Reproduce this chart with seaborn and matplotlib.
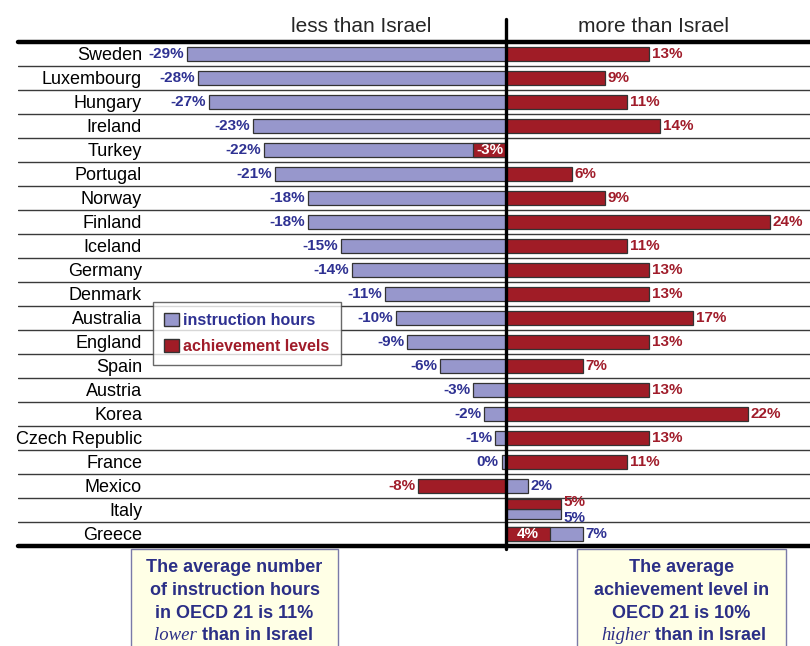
import matplotlib
matplotlib.use("Agg")
import matplotlib.pyplot as plt
import matplotlib.transforms as mtransforms
from matplotlib.patches import Patch, Rectangle
import seaborn as sns

# Data (% difference from Israel)
countries = ["Sweden", "Luxembourg", "Hungary", "Ireland", "Turkey", "Portugal",
             "Norway", "Finland", "Iceland", "Germany", "Denmark", "Australia",
             "England", "Spain", "Austria", "Korea", "Czech Republic", "France",
             "Mexico", "Italy", "Greece"]
instruction = [-29, -28, -27, -23, -22, -21, -18, -18, -15, -14, -11, -10,
               -9, -6, -3, -2, -1, -0.4, 2, 5, 7]
achievement = [13, 9, 11, 14, -3, 6, 9, 24, 11, 13, 13, 17,
               13, 7, 13, 22, 13, 11, -8, 5, 4]
header_left = "less than Israel"
header_right = "more than Israel"
note_left = ["The average number", "of instruction hours", "in OECD 21 is 11%"]
note_left_last = ("lower", " than in Israel")
note_right = ["The average", "achievement level in", "OECD 21 is 10%"]
note_right_last = ("higher", " than in Israel")

BLUE = "#9797CC"
RED = "#A01C26"
BLUE_TXT = "#2E3192"
RED_TXT = "#A01C2A"
NAVY = "#2B2F86"

sns.set_style("white")
plt.rcParams['font.family'] = ['Liberation Sans', 'DejaVu Sans']

W, H = 810, 646
fig = plt.figure(figsize=(W / 100, H / 100), dpi=100)
ax = fig.add_axes([18 / W, 1 - 546 / H, 792 / W, 504 / H])

sns.barplot(x=instruction, y=countries, orient='h', color=BLUE, saturation=1,
            width=0.62, edgecolor='#333333', linewidth=0.9, errorbar=None, ax=ax, zorder=2)
sns.barplot(x=achievement, y=countries, orient='h', color=RED, saturation=1,
            width=0.62, edgecolor='#333333', linewidth=0.9, errorbar=None, ax=ax, zorder=3)

blue_bars = ax.containers[0]
red_bars = ax.containers[1]

# Italy: the two bars are split in the row instead of sharing it
ii = countries.index("Italy")
rb, bb = red_bars[ii], blue_bars[ii]
rb.set_y(ii - 0.45); rb.set_height(0.40)
bb.set_y(ii - 0.03); bb.set_height(0.40)

ax.set_xlim(-44.36, 27.64)
ax.set_ylim(len(countries) - 0.5, -0.5)
ax.set_xlabel("")
ax.set_ylabel("")
ax.set_xticks([])
ax.set_yticks([])
for s in ax.spines.values():
    s.set_visible(False)

# row separators
for i in range(len(countries) - 1):
    ax.axhline(i + 0.5, color='#3a3a3a', lw=1.0, zorder=1)
ax.axhline(-0.5, color='black', lw=3.2, zorder=5, clip_on=False)
ax.axhline(len(countries) - 0.5, color='black', lw=3.2, zorder=5, clip_on=False)
ax.axvline(0, ymin=-0.005, ymax=1.045, color='black', lw=2.4, zorder=6, clip_on=False)

trans = mtransforms.blended_transform_factory(ax.transAxes, ax.transData)
for i, c in enumerate(countries):
    ax.text(0.1566, i + 0.06, c, transform=trans, ha='right', va='center',
            fontsize=13, color='black')


def pct(v):
    return f"{round(v)}%"


for i, (b, r) in enumerate(zip(instruction, achievement)):
    yb = blue_bars[i].get_y() + blue_bars[i].get_height() / 2
    yr = red_bars[i].get_y() + red_bars[i].get_height() / 2
    # Italy's stacked labels are pushed apart a little, as in the original
    dyb, dyr = (-3, 1.5) if i == ii else (0, 0)
    # instruction hours label, always outside the bar
    ax.annotate(pct(b), (b, yb), xytext=(-2 if b < 0 else 2, dyb), textcoords='offset points',
                ha='right' if b < 0 else 'left', va='center', fontsize=11,
                fontweight='bold', color=BLUE_TXT, zorder=7)
    # achievement label: inside (white) when the red bar sits on the blue one
    inside = (r * b > 0) and abs(r) < abs(b)
    if inside:
        ax.annotate(pct(r), (r / 2, yr), ha='center', va='center', fontsize=11,
                    fontweight='bold', color='white', zorder=7)
    else:
        ax.annotate(pct(r), (r, yr), xytext=(-2 if r < 0 else 2, dyr), textcoords='offset points',
                    ha='right' if r < 0 else 'left', va='center', fontsize=11,
                    fontweight='bold', color=RED_TXT, zorder=7)

fig.text(361 / W, 1 - 27 / H, header_left, ha='center', va='center', fontsize=15)
fig.text(653 / W, 1 - 27 / H, header_right, ha='center', va='center', fontsize=15)

handles = [Patch(facecolor=BLUE, edgecolor='#333333', label="instruction hours"),
           Patch(facecolor=RED, edgecolor='#333333', label="achievement levels")]
leg = fig.legend(handles=handles, loc='upper left', bbox_to_anchor=(153 / W, 1 - 302 / H),
                 frameon=True, fancybox=False, fontsize=11.5, handlelength=0.9,
                 handleheight=0.9, handletextpad=0.3, labelspacing=0.65,
                 borderpad=0.7, borderaxespad=0)
leg.get_frame().set_edgecolor('#444444')
leg.get_frame().set_linewidth(1.0)
for t, col in zip(leg.get_texts(), [BLUE_TXT, RED_TXT]):
    t.set_color(col)
    t.set_fontweight('bold')

# note boxes under the chart
for x0, x1, lines, last, split in [(131, 338, note_left, note_left_last, 197),
                                   (577, 786, note_right, note_right_last, 650)]:
    fig.add_artist(Rectangle((x0 / W, -0.01), (x1 - x0) / W, 0.01 + 1 - 549 / H,
                             transform=fig.transFigure, facecolor='#FFFFE6',
                             edgecolor='#7A7AA8', lw=1.0, zorder=0))
    xc = (x0 + x1) / 2
    for k, line in enumerate(lines):
        fig.text(xc / W, 1 - (568 + 22.5 * k) / H, line, ha='center', va='center',
                 fontsize=13, fontweight='bold', color=NAVY)
    fig.text(split / W, 1 - 636 / H, last[0], ha='right', va='center', fontsize=13.5,
             style='italic', family=['Liberation Serif', 'DejaVu Serif'], color=NAVY)
    fig.text(split / W, 1 - 636 / H, last[1], ha='left', va='center', fontsize=13,
             fontweight='bold', color=NAVY)

fig.savefig("out.png", dpi=100)
